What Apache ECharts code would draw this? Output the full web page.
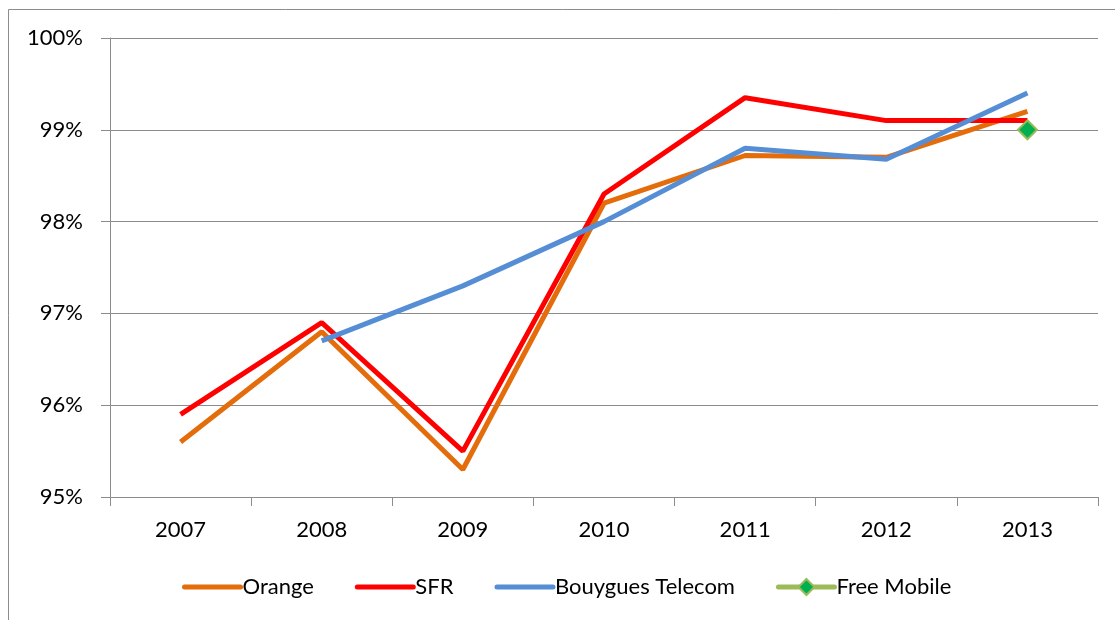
<!DOCTYPE html>
<html>
<head>
    <meta charset='utf-8' />
    <script src="https://cdn.jsdelivr.net/npm/echarts@6/dist/echarts.min.js"></script>
    <title>Taux de couverture</title>
    <style>
        html, body { margin: 0; padding: 0; background: #fff; overflow: hidden; }
        #chart { width: 1115px; height: 620px; }
    </style>
</head>
<body>
    <div id="chart"></div>
    <script type="text/javascript">
        var years = ['2007', '2008', '2009', '2010', '2011', '2012', '2013'];
        var orange = [95.6, 96.8, 95.3, 98.2, 98.72, 98.7, 99.2];
        var sfr = [95.9, 96.9, 95.5, 98.3, 99.35, 99.1, 99.1];
        var bouygues = ['-', 96.7, 97.3, 98.0, 98.8, 98.68, 99.4];
        var free = ['-', '-', '-', '-', '-', '-', 99.0];

        var font = 'Lato, "Open Sans", sans-serif';

        function lineSeries(name, data, color) {
            return {
                name: name,
                type: 'line',
                data: data,
                symbol: 'none',
                smooth: false,
                lineStyle: { color: color, width: 5 },
                itemStyle: { color: color }
            };
        }

        // line-only legend entries: hide the default circle
        function plainItem(name) {
            return { name: name, itemStyle: { opacity: 0 } };
        }

        var chart = echarts.init(document.getElementById('chart'));
        chart.setOption({
            animation: false,
            textStyle: { fontFamily: font },
            graphic: [{
                type: 'rect',
                shape: { x: 8.5, y: 9.5, width: 1120, height: 640 },
                style: { fill: 'none', stroke: '#8c8c8c', lineWidth: 1 },
                silent: true
            }],
            grid: { left: 110, top: 38, right: 17, bottom: 123 },
            legend: {
                top: 571,
                left: 177,
                itemWidth: 56,
                itemHeight: 20,
                itemGap: 41,
                lineStyle: { width: 5, cap: 'round' },
                textStyle: { fontSize: 22, color: '#000', fontFamily: font, padding: [0, 0, 0, -3] },
                data: [plainItem('Orange'), plainItem('SFR'), plainItem('Bouygues Telecom'), 'Free Mobile']
            },
            xAxis: {
                type: 'category',
                data: years,
                boundaryGap: true,
                axisLine: { lineStyle: { color: '#8c8c8c', width: 1 } },
                axisTick: { show: true, length: 9, interval: 0, lineStyle: { color: '#8c8c8c' } },
                axisLabel: { fontSize: 22, color: '#000', margin: 22, fontFamily: font }
            },
            yAxis: {
                type: 'value',
                min: 95,
                max: 100,
                interval: 1,
                axisLine: { show: true, lineStyle: { color: '#8c8c8c', width: 1 } },
                axisTick: { show: true, length: 9, lineStyle: { color: '#8c8c8c' } },
                splitLine: { lineStyle: { color: '#8c8c8c', width: 1 } },
                axisLabel: {
                    fontSize: 22, color: '#000', margin: 27, fontFamily: font,
                    formatter: function (v) { return v + '%'; }
                }
            },
            series: [
                lineSeries('Orange', orange, '#e46c0a'),
                lineSeries('SFR', sfr, '#ff0000'),
                lineSeries('Bouygues Telecom', bouygues, '#558ed5'),
                {
                    name: 'Free Mobile',
                    type: 'line',
                    data: free,
                    symbol: 'diamond',
                    symbolSize: 19,
                    lineStyle: { color: '#9bbb59', width: 5 },
                    itemStyle: { color: '#00b050', borderColor: '#9bbb59', borderWidth: 2 }
                }
            ]
        });
    </script>
</body>
</html>
